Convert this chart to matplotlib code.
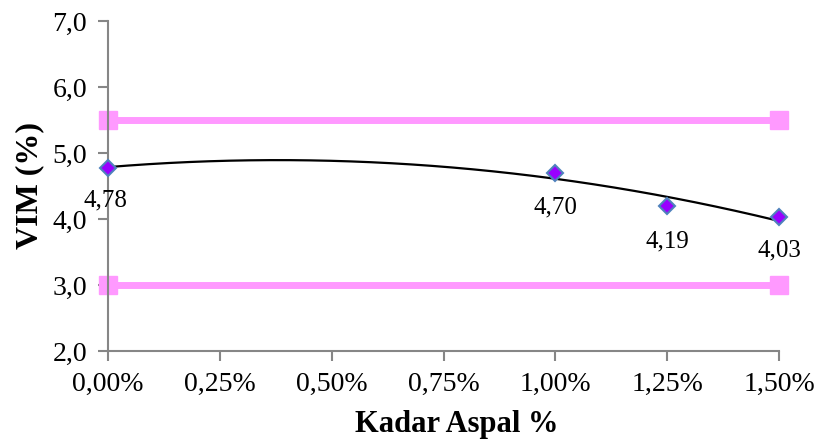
import numpy as np
import matplotlib
matplotlib.use("Agg")
import matplotlib.pyplot as plt
from matplotlib.ticker import FuncFormatter

# data
kadar = [0.0, 1.0, 1.25, 1.5]          # Kadar Aspal %
vim = [4.78, 4.70, 4.19, 4.03]          # VIM (%)
vim_labels = ["4,78", "4,70", "4,19", "4,03"]
batas_atas = [5.5, 5.5]
batas_bawah = [3.0, 3.0]
batas_x = [0.0, 1.5]

plt.rcParams['font.family'] = ['Liberation Serif', 'DejaVu Serif']

fig = plt.figure(figsize=(8.15, 4.42), dpi=100)
ax = fig.add_axes([0.1325, 0.2059, 0.8235, 0.7466])

grey = '#868686'
pink = '#FF99FF'

# spec limits
ax.plot(batas_x, batas_atas, color=pink, lw=5, marker='s', ms=13, clip_on=False, zorder=2)
ax.plot(batas_x, batas_bawah, color=pink, lw=5, marker='s', ms=13, clip_on=False, zorder=2)

# polynomial trendline (order 2)
coef = np.polyfit(kadar, vim, 2)
xs = np.linspace(0, 1.5, 200)
ax.plot(xs, np.polyval(coef, xs), color='black', lw=1.6, zorder=3)

# data points
ax.plot(kadar, vim, ls='none', marker='D', ms=8, mfc='#9900FF', mec='#4F81BD',
        mew=1.5, clip_on=False, zorder=4)

# data labels
offsets = [(-0.005, -0.5), (0.0, -0.53), (0.0, -0.53), (0.0, -0.5)]
for x, y, lab, (dx, dy) in zip(kadar, vim, vim_labels, offsets):
    ax.text(x + dx, y + dy, lab, fontsize=18, ha='center', va='center', zorder=5)

ax.set_xlim(0, 1.5)
ax.set_ylim(2.0, 7.0)
ax.set_xticks(np.arange(0, 1.51, 0.25))
ax.set_yticks(np.arange(2, 7.1, 1))
ax.xaxis.set_major_formatter(FuncFormatter(lambda v, p: f"{v:.2f}%".replace('.', ',')))
ax.yaxis.set_major_formatter(FuncFormatter(lambda v, p: f"{v:.1f}".replace('.', ',')))

for s in ['top', 'right']:
    ax.spines[s].set_visible(False)
for s in ['left', 'bottom']:
    ax.spines[s].set_color(grey)
    ax.spines[s].set_linewidth(1.5)
ax.tick_params(axis='both', direction='out', length=7, width=1.5, color=grey,
               labelsize=20, pad=8)

ax.set_xlabel('Kadar Aspal %', fontsize=22, fontweight='bold')
ax.xaxis.set_label_coords(0.519, -0.18)
ax.set_ylabel('VIM (%)', fontsize=23, fontweight='bold', labelpad=6)

fig.savefig('out.png', dpi=100)
